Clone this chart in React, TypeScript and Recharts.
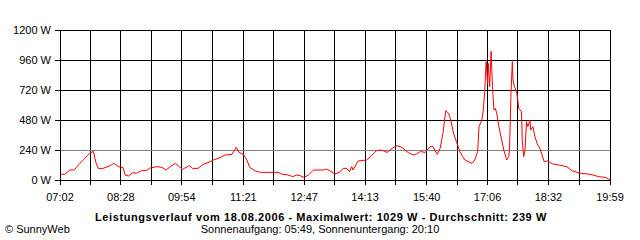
import React from 'react';
import { LineChart, Line, XAxis, YAxis, CartesianGrid, ReferenceLine } from 'recharts';

const TIMES = [
  '07:02','07:09','07:16','07:22','07:30','07:37','07:44','07:49','07:53','07:56',
  '08:03','08:13','08:18','08:23','08:27','08:31','08:34','08:39','08:45','08:50',
  '08:57','09:04','09:09','09:19','09:26','09:32','09:38','09:45','09:49','09:55',
  '10:00','10:05','10:09','10:17','10:24','10:31','10:39','10:48','10:55','11:05',
  '11:11','11:15','11:21','11:26','11:30','11:37','11:45','12:10','12:15','12:24',
  '12:31','12:36','12:41','12:47','12:53','13:00','13:14','13:18','13:23','13:30',
  '13:37','13:42','13:47','13:51','13:54','13:56','14:03','14:15','14:21','14:29',
  '14:36','14:44','14:51','14:58','15:05','15:14','15:21','15:26','15:31','15:38',
  '15:45','15:49','15:52','15:55','15:59','16:03','16:07','16:11','16:14','16:18',
  '16:22','16:27','16:31','16:34','16:39','16:44','16:48','16:52','16:54','16:58',
  '17:00','17:02','17:04','17:06','17:07','17:09','17:10','17:11','17:13','17:15',
  '17:17','17:19','17:22','17:26','17:29','17:33','17:36','17:37','17:39','17:41',
  '17:42','17:44','17:47','17:49','17:50','17:54','17:55','17:57','17:59','18:01',
  '18:03','18:06','18:07','18:10','18:13','18:16','18:20','18:23','18:26','18:31',
  '18:38','18:46','18:58','19:05','19:17','19:28','19:35','19:43','19:52','19:58',
  '19:59',
];

const WATTS = [
  46, 46, 80, 80, 133, 173, 213, 230, 136, 93,
  93, 115, 133, 115, 101, 101, 40, 32, 59, 53,
  75, 75, 96, 107, 101, 80, 107, 133, 115, 85,
  101, 115, 93, 93, 125, 139, 160, 179, 200, 205,
  261, 221, 205, 160, 101, 75, 61, 61, 48, 40,
  27, 40, 35, 21, 40, 80, 80, 88, 75, 48,
  61, 93, 93, 67, 107, 80, 152, 160, 187, 235,
  240, 221, 253, 275, 261, 219, 200, 210, 227, 221,
  267, 267, 235, 205, 253, 373, 555, 533, 480, 373,
  307, 225, 187, 160, 147, 133, 160, 227, 427, 480,
  560, 707, 947, 773, 933, 747, 880, 1029, 747, 560,
  573, 533, 427, 320, 240, 160, 187, 240, 667, 947,
  800, 747, 707, 627, 573, 547, 320, 187, 240, 467,
  427, 480, 400, 427, 347, 293, 253, 200, 147, 152,
  128, 120, 107, 75, 53, 48, 40, 27, 21, 5,
  3,
];

const TICK_LABELS = ['07:02','08:28','09:54','11:21','12:47','14:13','15:40','17:06','18:32','19:59'];
const Y_TICKS = [0, 240, 480, 720, 960, 1200];

const TITLE = 'Leistungsverlauf vom 18.08.2006 - Maximalwert: 1029 W - Durchschnitt: 239 W';
const SUBTITLE = 'Sonnenaufgang: 05:49, Sonnenuntergang: 20:10';
const CREDIT = '\u00A9 SunnyWeb';

const toMin = (s: string) => {
  const [h, m] = s.split(':').map(Number);
  return h * 60 + m;
};

const data = TIMES.map((t, i) => ({ t: toMin(t), w: WATTS[i] }));

const labelMins = TICK_LABELS.map(toMin);
const xTicks: number[] = [];
labelMins.forEach((m, i) => {
  xTicks.push(m);
  if (i < labelMins.length - 1) xTicks.push((m + labelMins[i + 1]) / 2);
});

const FONT = '"Liberation Sans", Arial, sans-serif';

export default function App() {
  return (
    <div style={{ position: 'absolute', left: 0, top: 0, width: 640, height: 240, background: '#fff', fontFamily: FONT }}>
      <LineChart width={640} height={240} data={data} margin={{ top: 30, right: 30, bottom: 35, left: 0 }}>
        <CartesianGrid stroke="#000" strokeWidth={1} shapeRendering="crispEdges" />
        <XAxis
          dataKey="t"
          type="number"
          domain={[labelMins[0], labelMins[labelMins.length - 1]]}
          ticks={xTicks}
          interval={0}
          height={25}
          tickSize={5}
          tickMargin={8}
          stroke="#000"
          tickLine={{ stroke: '#000', shapeRendering: 'crispEdges' }}
          axisLine={{ stroke: '#000', shapeRendering: 'crispEdges' }}
          tick={{ fill: '#000', fontSize: 11, fontFamily: FONT }}
          tickFormatter={(v: number, i: number) => (i % 2 === 0 ? TICK_LABELS[i / 2] : '')}
        />
        <YAxis
          type="number"
          domain={[0, 1200]}
          ticks={Y_TICKS}
          interval={0}
          width={60}
          tickSize={5}
          tickMargin={4}
          stroke="#000"
          tickLine={{ stroke: '#000', shapeRendering: 'crispEdges' }}
          axisLine={{ stroke: '#000', shapeRendering: 'crispEdges' }}
          tick={{ fill: '#000', fontSize: 11, fontFamily: FONT }}
          tickFormatter={(v: number) => `${v} W`}
        />
        <ReferenceLine y={240} stroke="#808080" strokeWidth={1} shapeRendering="crispEdges" />
        <Line
          type="linear"
          dataKey="w"
          stroke="#ff0000"
          strokeWidth={1}
          dot={false}
          isAnimationActive={false}
        />
      </LineChart>
      <svg width={640} height={240} style={{ position: 'absolute', left: 0, top: 0, pointerEvents: 'none' }}>
        <text x={321} y={221} textAnchor="middle" fontFamily={FONT} fontSize={11} fontWeight="bold" letterSpacing={0.58} fill="#000">
          {TITLE}
        </text>
        <text x={320} y={233} textAnchor="middle" fontFamily={FONT} fontSize={11} fill="#000">
          {SUBTITLE}
        </text>
        <text x={5} y={233} textAnchor="start" fontFamily={FONT} fontSize={11} fill="#000">
          {CREDIT}
        </text>
      </svg>
    </div>
  );
}
